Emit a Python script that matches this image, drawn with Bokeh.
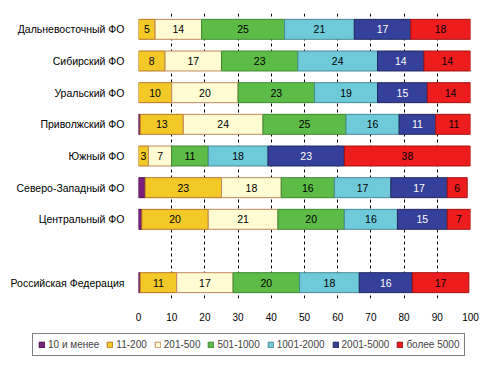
import numpy as np
from bokeh.plotting import figure
from bokeh.models import Range1d, FixedTicker, Legend, LegendItem, ColumnDataSource
from bokeh.core.properties import value
from bokeh.embed import file_html
from bokeh.resources import INLINE

regions = ["Дальневосточный ФО", "Сибирский ФО", "Уральский ФО", "Приволжский ФО",
           "Южный ФО", "Северо-Западный ФО", "Центральный ФО", "", "Российская Федерация"]
series = ["10 и менее", "11-200", "201-500", "501-1000", "1001-2000", "2001-5000", "более 5000"]

s_10 = [0.0, 0.0, 0.0, 0.5, 0.0, 2.0, 1.0, 0.0, 0.5]
s_200 = [5, 8, 10, 13, 3, 23, 20, 0, 11]
s_500 = [14, 17, 20, 24, 7, 18, 21, 0, 17]
s_1000 = [25, 23, 23, 25, 11, 16, 20, 0, 20]
s_2000 = [21, 24, 19, 16, 18, 17, 16, 0, 18]
s_5000 = [17, 14, 15, 11, 23, 17, 15, 0, 16]
s_more = [18, 14, 14, 11, 38, 6, 7, 0, 17]

fills = ["#7A1F7A", "#F3C928", "#FFFBD2", "#5DBB48", "#6ECAD8", "#35409A", "#EE1D1D"]
lines = ["#4A0E4A", "#B8752A", "#C08A60", "#3C8A30", "#4A8A95", "#22285F", "#A01010"]
txtcol = ["black", "black", "black", "black", "black", "white", "black"]

data = [s_10, s_200, s_500, s_1000, s_2000, s_5000, s_more]
n = len(regions)
ypos = np.array([n - 1 - i for i in range(n)])

p = figure(width=487, height=325, output_backend="svg", toolbar_location=None,
           x_range=Range1d(0, 100), y_range=Range1d(-0.5, n - 0.5),
           min_border_left=138, min_border_right=17, min_border_top=13,
           min_border_bottom=27)
p.outline_line_color = None

left = np.zeros(n)
for k, vals in enumerate(data):
    v = np.array(vals, dtype=float)
    right = left + v
    m = v > 0
    src = ColumnDataSource(dict(y=ypos[m], left=left[m], right=right[m]))
    p.hbar(y="y", left="left", right="right", height=0.63, source=src,
           fill_color=fills[k], line_color=lines[k], line_width=1)
    if k > 0:
        mask = v >= 3
        tsrc = ColumnDataSource(dict(x=((left + right) / 2)[mask],
                                     y=ypos[mask],
                                     t=[str(int(round(x))) for x in v[mask]]))
        p.text(x="x", y="y", text="t", source=tsrc, text_align="center",
               text_baseline="middle", text_font=value("Liberation Sans"),
               text_font_size="10.5px", text_color=txtcol[k])
    left = right

p.xgrid.ticker = FixedTicker(ticks=list(range(0, 101, 10)))
p.xgrid.grid_line_color = "black"
p.xgrid.grid_line_dash = "3 3"
p.xgrid.grid_line_width = 1
p.ygrid.grid_line_color = None

p.xaxis.ticker = FixedTicker(ticks=list(range(0, 101, 10)))
p.xaxis.axis_line_color = None
p.xaxis.major_tick_line_color = None
p.xaxis.minor_tick_line_color = None
p.xaxis.major_label_text_font = "Liberation Sans"
p.xaxis.major_label_text_font_size = "10px"
p.xaxis.major_label_text_color = "black"
p.xaxis.major_label_standoff = 8

p.yaxis.ticker = FixedTicker(ticks=list(ypos))
p.yaxis.major_label_overrides = {int(ypos[i]): regions[i] for i in range(n)}
p.yaxis.axis_line_color = None
p.yaxis.major_tick_line_color = None
p.yaxis.minor_tick_line_color = None
p.yaxis.major_label_text_font = "Liberation Sans"
p.yaxis.major_label_text_font_size = "10.5px"
p.yaxis.major_label_text_color = "black"
p.yaxis.major_label_standoff = 8

# legend strip
q = figure(width=487, height=32, output_backend="svg", toolbar_location=None,
           x_range=Range1d(0, 1), y_range=Range1d(0, 1),
           min_border_left=0, min_border_right=0, min_border_top=0, min_border_bottom=0)
q.axis.visible = False
q.grid.grid_line_color = None
q.outline_line_color = None
items = []
for k in range(len(series)):
    r = q.hbar(y=[5], left=[5], right=[6], height=1, fill_color=fills[k], line_color=lines[k])
    items.append(LegendItem(label=series[k], renderers=[r]))
legend = Legend(items=items, orientation="horizontal", location=(32, 1),
                label_text_font="Liberation Sans", label_text_font_size="10px",
                glyph_width=7, glyph_height=7, label_standoff=3, spacing=7,
                padding=5, margin=0, border_line_color="black", border_line_width=1,
                label_height=10)
q.add_layout(legend, "center")

open("out.html", "w").write(file_html([p, q], INLINE))
